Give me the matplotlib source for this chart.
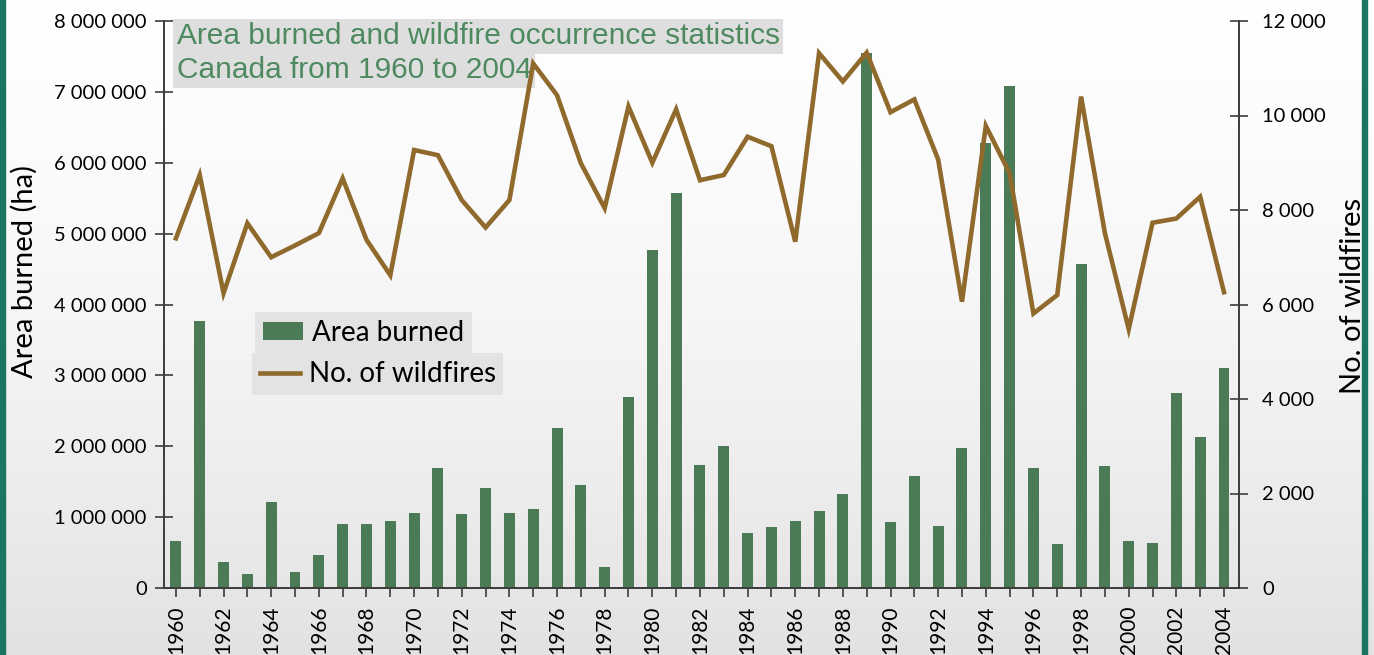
import numpy as np
import matplotlib.pyplot as plt
from matplotlib.patches import Rectangle
from matplotlib.ticker import FuncFormatter, MultipleLocator

# Data (Canada, 1960-2004)
years = list(range(1960, 2005))
area_burned = [0.66e6, 3.77e6, 0.36e6, 0.20e6, 1.22e6, 0.22e6, 0.47e6, 0.91e6, 0.91e6, 0.95e6,
               1.06e6, 1.70e6, 1.04e6, 1.41e6, 1.06e6, 1.12e6, 2.26e6, 1.45e6, 0.30e6, 2.69e6,
               4.77e6, 5.57e6, 1.73e6, 2.00e6, 0.78e6, 0.86e6, 0.95e6, 1.08e6, 1.33e6, 7.55e6,
               0.93e6, 1.58e6, 0.87e6, 1.97e6, 6.28e6, 7.08e6, 1.70e6, 0.62e6, 4.57e6, 1.72e6,
               0.66e6, 0.64e6, 2.75e6, 2.13e6, 3.10e6]
wildfires = [7400, 8740, 6240, 7720, 7000, 7250, 7510, 8670, 7370, 6620,
             9270, 9160, 8210, 7630, 8210, 11100, 10430, 8990, 8040, 10190,
             9000, 10130, 8630, 8740, 9550, 9350, 7330, 11320, 10720, 11330,
             10070, 10340, 9070, 6060, 9780, 8780, 5810, 6200, 10400, 7510,
             5480, 7730, 7820, 8280, 6260]
x_labels = [str(y) if y % 2 == 0 else "" for y in years]

title_lines = ["Area burned and wildfire occurrence statistics", "Canada from 1960 to 2004"]

BAR_COLOR = "#4a7a56"
LINE_COLOR = "#8f6a2c"
TITLE_COLOR = "#4d8a60"
FRAME_COLOR = "#1b7561"
AXIS_COLOR = "#3c3c3c"

plt.rcParams['font.family'] = ['Lato', 'DejaVu Sans']

fig = plt.figure(figsize=(13.74, 6.55), dpi=100)

# light grey background, fading to white at the top
bg = fig.add_axes([0, 0, 1, 1], zorder=-10)
grad = np.linspace(0, 1, 256).reshape(-1, 1) ** 1.6
bg.imshow(grad, cmap=plt.matplotlib.colors.LinearSegmentedColormap.from_list(
    "bg", ["#fefefe", "#e2e2e2"]), aspect="auto", extent=[0, 1, 0, 1], origin="upper")
bg.set_axis_off()

# green frame strips
W, H = 1374, 655
fig.patches.append(Rectangle((0, 0), 5 / W, 1, transform=fig.transFigure, color=FRAME_COLOR))
fig.patches.append(Rectangle((1362 / W, 0), 5 / W, 1, transform=fig.transFigure, color=FRAME_COLOR))

ax = fig.add_axes([164 / W, 67 / H, 1075 / W, 567 / H])
ax.patch.set_alpha(0)
ax2 = ax.twinx()

bars = ax.bar(years, area_burned, width=0.46, color=BAR_COLOR, label="Area burned")
line, = ax2.plot(years, wildfires, color=LINE_COLOR, lw=3.3, label="No. of wildfires",
                 solid_joinstyle="miter")

ax.set_xlim(1959.5, 2004.63)
ax.set_ylim(0, 8e6)
ax2.set_ylim(0, 12000)

fmt = FuncFormatter(lambda v, p: f"{int(round(v)):,}".replace(",", " "))
ax.yaxis.set_major_locator(MultipleLocator(1e6))
ax.yaxis.set_major_formatter(fmt)
ax2.yaxis.set_major_locator(MultipleLocator(2000))
ax2.yaxis.set_major_formatter(fmt)

ax.set_xticks(years)
ax.set_xticklabels(x_labels, rotation=90)

for a in (ax, ax2):
    for s in a.spines.values():
        s.set_color(AXIS_COLOR)
        s.set_linewidth(1.2)
    a.spines['top'].set_visible(False)

ax.tick_params(axis='y', direction='inout', length=13, width=1.2, color=AXIS_COLOR,
               labelsize=14.5, pad=6)
ax2.tick_params(axis='y', direction='inout', length=13, width=1.2, color=AXIS_COLOR,
                labelsize=14.5, pad=10)
ax.tick_params(axis='x', direction='out', length=6.5, width=1.2, color=AXIS_COLOR,
               labelsize=15, pad=6)

ax.set_ylabel("Area burned (ha)", fontsize=21)
ax.yaxis.set_label_coords(-0.117, 0.559)
ax2.set_ylabel("No. of wildfires", fontsize=21)
ax2.yaxis.set_label_coords(1.094, 0.515)

# title, each line on its own grey band
for i, txt in enumerate(title_lines):
    ax.text(0.012, 0.973 - i * 0.06, txt, transform=ax.transAxes, ha="left", va="center",
            fontsize=21.5, color=TITLE_COLOR, family="Liberation Sans",
            bbox=dict(boxstyle="square,pad=0.12", fc="#dedede", ec="none"))

leg_kw = dict(loc="upper left", borderaxespad=0, fontsize=20, frameon=True,
              facecolor="#e3e3e3", edgecolor="none", fancybox=False, framealpha=1,
              handlelength=1.45, handleheight=0.6, handletextpad=0.3, borderpad=0.28)
leg1 = ax2.legend(handles=[bars], bbox_to_anchor=(0.085, 0.487), **leg_kw)
ax2.add_artist(leg1)
ax2.legend(handles=[line], bbox_to_anchor=(0.082, 0.414), **leg_kw)

fig.savefig("out.png", dpi=100)
